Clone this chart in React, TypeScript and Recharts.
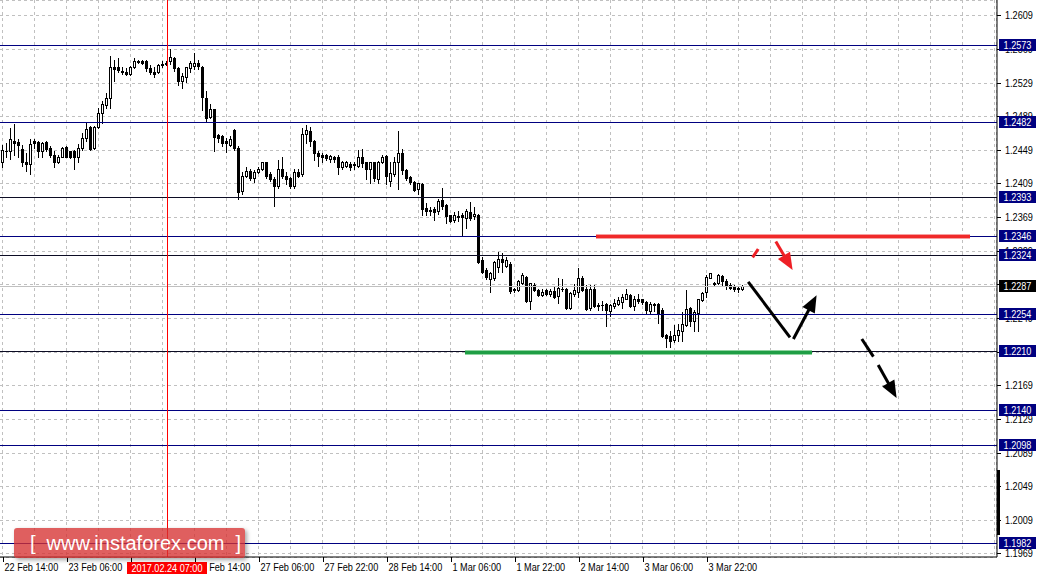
import React from "react";
import { ComposedChart, Bar, XAxis, YAxis, CartesianGrid, ReferenceLine } from "recharts";

const FONT = "'Liberation Sans', Arial, sans-serif";
const SQUEEZE = 0.83; // MT4 uses a narrow Tahoma, squeeze Liberation Sans to match

// hourly bars; bar index 0 = 22 Feb 14:00, the first bar sits half off the left edge
const firstBar = -1;

const opens = [
  1.2457, 1.2434, 1.2448, 1.2448, 1.2459, 1.2458, 1.2450, 1.2435, 1.2432, 1.2459,
  1.2458, 1.2447, 1.2458, 1.2451, 1.2443, 1.2434, 1.2441, 1.2452, 1.2447, 1.2448,
  1.2440, 1.2451, 1.2463, 1.2476, 1.2451, 1.2476, 1.2493, 1.2502, 1.2510, 1.2547,
  1.2547, 1.2543, 1.2542, 1.2539, 1.2547, 1.2554, 1.2554, 1.2554, 1.2546, 1.2542,
  1.2542, 1.2550, 1.2551, 1.2554, 1.2558, 1.2546, 1.2531, 1.2535, 1.2546, 1.2549,
  1.2552, 1.2548, 1.2511, 1.2488, 1.2497, 1.2466, 1.2465, 1.2460, 1.2455, 1.2473,
  1.2451, 1.2400, 1.2418, 1.2424, 1.2415, 1.2422, 1.2426, 1.2434, 1.2420, 1.2414,
  1.2406, 1.2426, 1.2418, 1.2416, 1.2406, 1.2422, 1.2420, 1.2468, 1.2471, 1.2460,
  1.2445, 1.2443, 1.2443, 1.2438, 1.2441, 1.2441, 1.2428, 1.2430, 1.2432, 1.2432,
  1.2430, 1.2441, 1.2434, 1.2426, 1.2434, 1.2414, 1.2434, 1.2442, 1.2412, 1.2420,
  1.2434, 1.2445, 1.2425, 1.2417, 1.2411, 1.2402, 1.2408, 1.2380, 1.2377, 1.2379,
  1.2376, 1.2389, 1.2383, 1.2371, 1.2365, 1.2370, 1.2371, 1.2368, 1.2375, 1.2370,
  1.2372, 1.2318, 1.2306, 1.2295, 1.2296, 1.2310, 1.2319, 1.2311, 1.2313, 1.2284,
  1.2282, 1.2291, 1.2298, 1.2269, 1.2288, 1.2282, 1.2276, 1.2282, 1.2277, 1.2281,
  1.2275, 1.2283, 1.2284, 1.2261, 1.2278, 1.2280, 1.2297, 1.2283, 1.2261, 1.2283,
  1.2265, 1.2265, 1.2266, 1.2257, 1.2263, 1.2266, 1.2268, 1.2272, 1.2276, 1.2263,
  1.2271, 1.2271, 1.2268, 1.2257, 1.2266, 1.2266, 1.2259, 1.2229, 1.2227, 1.2223,
  1.2229, 1.2234, 1.2241, 1.2261, 1.2246, 1.2255, 1.2270, 1.2280, 1.2297, 1.2289,
  1.2290, 1.2299, 1.2293, 1.2288, 1.2287, 1.2285, 1.2283,
];
const highs = [
  1.2459, 1.2455, 1.2457, 1.2475, 1.2480, 1.2462, 1.2455, 1.2445, 1.2462, 1.2462,
  1.2460, 1.2458, 1.2459, 1.2453, 1.2447, 1.2443, 1.2452, 1.2453, 1.2448, 1.2449,
  1.2456, 1.2469, 1.2482, 1.2477, 1.2477, 1.2499, 1.2507, 1.2516, 1.2560, 1.2556,
  1.2558, 1.2548, 1.2546, 1.2549, 1.2558, 1.2556, 1.2556, 1.2556, 1.2550, 1.2547,
  1.2551, 1.2554, 1.2554, 1.2569, 1.2559, 1.2547, 1.2540, 1.2548, 1.2554, 1.2564,
  1.2556, 1.2549, 1.2519, 1.2503, 1.2498, 1.2468, 1.2467, 1.2463, 1.2465, 1.2474,
  1.2453, 1.2422, 1.2429, 1.2426, 1.2425, 1.2429, 1.2435, 1.2435, 1.2422, 1.2417,
  1.2437, 1.2440, 1.2422, 1.2417, 1.2426, 1.2426, 1.2475, 1.2478, 1.2476, 1.2461,
  1.2447, 1.2445, 1.2444, 1.2443, 1.2442, 1.2443, 1.2436, 1.2436, 1.2434, 1.2435,
  1.2449, 1.2450, 1.2435, 1.2435, 1.2435, 1.2436, 1.2443, 1.2443, 1.2434, 1.2440,
  1.2471, 1.2450, 1.2426, 1.2418, 1.2412, 1.2410, 1.2409, 1.2386, 1.2381, 1.2381,
  1.2391, 1.2403, 1.2384, 1.2372, 1.2375, 1.2376, 1.2374, 1.2378, 1.2387, 1.2381,
  1.2373, 1.2321, 1.2309, 1.2304, 1.2317, 1.2327, 1.2326, 1.2322, 1.2315, 1.2285,
  1.2294, 1.2302, 1.2299, 1.2291, 1.2291, 1.2284, 1.2283, 1.2284, 1.2284, 1.2287,
  1.2296, 1.2295, 1.2285, 1.2280, 1.2289, 1.2308, 1.2299, 1.2288, 1.2288, 1.2288,
  1.2267, 1.2269, 1.2267, 1.2266, 1.2272, 1.2274, 1.2277, 1.2283, 1.2277, 1.2275,
  1.2277, 1.2272, 1.2269, 1.2268, 1.2267, 1.2267, 1.2261, 1.2230, 1.2233, 1.2241,
  1.2242, 1.2256, 1.2282, 1.2262, 1.2259, 1.2272, 1.2280, 1.2300, 1.2303, 1.2292,
  1.2301, 1.2300, 1.2295, 1.2290, 1.2288, 1.2286, 1.2288,
];
const lows = [
  1.2440, 1.2428, 1.2440, 1.2438, 1.2443, 1.2440, 1.2430, 1.2424, 1.2420, 1.2451,
  1.2441, 1.2441, 1.2447, 1.2440, 1.2428, 1.2433, 1.2440, 1.2440, 1.2439, 1.2426,
  1.2434, 1.2449, 1.2459, 1.2449, 1.2450, 1.2475, 1.2481, 1.2499, 1.2499, 1.2531,
  1.2542, 1.2539, 1.2538, 1.2538, 1.2546, 1.2552, 1.2551, 1.2543, 1.2539, 1.2535,
  1.2540, 1.2547, 1.2550, 1.2551, 1.2543, 1.2526, 1.2522, 1.2530, 1.2542, 1.2545,
  1.2545, 1.2496, 1.2483, 1.2487, 1.2448, 1.2458, 1.2454, 1.2446, 1.2453, 1.2449,
  1.2391, 1.2397, 1.2417, 1.2413, 1.2411, 1.2421, 1.2425, 1.2416, 1.2412, 1.2382,
  1.2403, 1.2416, 1.2408, 1.2403, 1.2403, 1.2417, 1.2418, 1.2457, 1.2453, 1.2437,
  1.2430, 1.2435, 1.2437, 1.2435, 1.2434, 1.2420, 1.2426, 1.2429, 1.2425, 1.2426,
  1.2429, 1.2429, 1.2414, 1.2410, 1.2412, 1.2410, 1.2433, 1.2408, 1.2406, 1.2418,
  1.2402, 1.2420, 1.2413, 1.2408, 1.2400, 1.2396, 1.2372, 1.2371, 1.2372, 1.2366,
  1.2373, 1.2378, 1.2362, 1.2363, 1.2363, 1.2364, 1.2348, 1.2356, 1.2366, 1.2367,
  1.2314, 1.2302, 1.2295, 1.2280, 1.2294, 1.2304, 1.2304, 1.2310, 1.2279, 1.2280,
  1.2281, 1.2289, 1.2268, 1.2260, 1.2281, 1.2275, 1.2275, 1.2276, 1.2275, 1.2273,
  1.2267, 1.2281, 1.2260, 1.2260, 1.2275, 1.2274, 1.2281, 1.2259, 1.2259, 1.2262,
  1.2259, 1.2258, 1.2240, 1.2251, 1.2261, 1.2265, 1.2261, 1.2271, 1.2262, 1.2259,
  1.2267, 1.2266, 1.2254, 1.2255, 1.2257, 1.2243, 1.2226, 1.2214, 1.2214, 1.2221,
  1.2222, 1.2222, 1.2240, 1.2239, 1.2233, 1.2233, 1.2269, 1.2274, 1.2296, 1.2287,
  1.2289, 1.2287, 1.2283, 1.2283, 1.2281, 1.2280, 1.2282,
];
const closes = [
  1.2443, 1.2449, 1.2447, 1.2462, 1.2457, 1.2455, 1.2435, 1.2432, 1.2456, 1.2457,
  1.2447, 1.2457, 1.2450, 1.2443, 1.2434, 1.2441, 1.2451, 1.2441, 1.2440, 1.2440,
  1.2451, 1.2463, 1.2474, 1.2450, 1.2476, 1.2493, 1.2503, 1.2510, 1.2547, 1.2545,
  1.2544, 1.2542, 1.2539, 1.2548, 1.2554, 1.2553, 1.2552, 1.2546, 1.2541, 1.2539,
  1.2550, 1.2551, 1.2552, 1.2559, 1.2546, 1.2531, 1.2537, 1.2547, 1.2552, 1.2552,
  1.2549, 1.2512, 1.2487, 1.2498, 1.2464, 1.2463, 1.2457, 1.2457, 1.2462, 1.2451,
  1.2399, 1.2418, 1.2424, 1.2415, 1.2422, 1.2426, 1.2434, 1.2418, 1.2414, 1.2406,
  1.2426, 1.2418, 1.2414, 1.2406, 1.2422, 1.2418, 1.2468, 1.2472, 1.2459, 1.2445,
  1.2442, 1.2441, 1.2439, 1.2442, 1.2438, 1.2428, 1.2434, 1.2434, 1.2428, 1.2431,
  1.2440, 1.2433, 1.2426, 1.2434, 1.2416, 1.2434, 1.2441, 1.2418, 1.2421, 1.2434,
  1.2445, 1.2425, 1.2415, 1.2411, 1.2401, 1.2409, 1.2379, 1.2376, 1.2376, 1.2375,
  1.2388, 1.2382, 1.2370, 1.2364, 1.2372, 1.2369, 1.2369, 1.2376, 1.2368, 1.2373,
  1.2315, 1.2304, 1.2298, 1.2302, 1.2315, 1.2319, 1.2315, 1.2318, 1.2281, 1.2282,
  1.2293, 1.2300, 1.2269, 1.2290, 1.2282, 1.2276, 1.2280, 1.2277, 1.2281, 1.2274,
  1.2285, 1.2284, 1.2261, 1.2279, 1.2282, 1.2296, 1.2282, 1.2260, 1.2283, 1.2263,
  1.2263, 1.2264, 1.2258, 1.2264, 1.2267, 1.2270, 1.2274, 1.2277, 1.2263, 1.2272,
  1.2269, 1.2268, 1.2258, 1.2266, 1.2264, 1.2254, 1.2227, 1.2225, 1.2222, 1.2229,
  1.2235, 1.2242, 1.2260, 1.2246, 1.2256, 1.2271, 1.2279, 1.2298, 1.2302, 1.2290,
  1.2300, 1.2293, 1.2287, 1.2285, 1.2283, 1.2283, 1.2287,
];

const labelBars = [0, 16, 32, 48, 64, 80, 96, 112, 128, 144, 160, 176];
const labelTexts = [
  "22 Feb 14:00", "23 Feb 06:00", "23 Feb 22:00", "24 Feb 14:00", "27 Feb 06:00", "27 Feb 22:00",
  "28 Feb 14:00", "1 Mar 06:00", "1 Mar 22:00", "2 Mar 14:00", "3 Mar 06:00", "3 Mar 22:00",
];
const gridBars = Array.from({ length: 32 }, (_, i) => i * 8);

const priceTicks = [
  1.2609, 1.2569, 1.2529, 1.2489, 1.2449, 1.2409, 1.2369, 1.2329, 1.2289,
  1.2249, 1.2209, 1.2169, 1.2129, 1.2089, 1.2049, 1.2009, 1.1969,
];

const blueLevels = [1.2573, 1.2482, 1.2346, 1.2254, 1.2140, 1.2098, 1.1982];
const darkLevels = [1.2393, 1.2324, 1.2210];
const bidPrice = 1.2287;

const cursorBar = 41;
const cursorText = "2017.02.24 07:00";

const resistance = { fromBar: 148.25, toBar: 241.75, price: 1.2346 };
const support = { fromBar: 115.5, toBar: 202.25, price: 1.2208 };

// hand drawn forecast strokes: [bar, price] -> [bar, price]
const strokes = [
  { from: [187.4, 1.2321], to: [188.8, 1.2331], color: "#ee2026", head: false },
  { from: [193.2, 1.234], to: [197.4, 1.2306], color: "#ee2026", head: true },
  { from: [186.3, 1.2292], to: [196.75, 1.2226], color: "#000000", head: false },
  { from: [197.6, 1.2224], to: [203.4, 1.2276], color: "#000000", head: true },
  { from: [214.7, 1.2224], to: [217.6, 1.2203], color: "#000000", head: false },
  { from: [218.8, 1.2193], to: [223.4, 1.2154], color: "#000000", head: true },
];

const DOMAIN_X: [number, number] = [-0.75, 248.5];
const DOMAIN_Y: [number, number] = [1.196479, 1.26271];

const candles = opens.map((o, i) => ({
  bar: firstBar + i,
  o,
  h: highs[i],
  l: lows[i],
  c: closes[i],
  range: [lows[i], highs[i]],
}));

const tagValues = [...blueLevels, ...darkLevels, bidPrice];

const fmt = (p: number) => p.toFixed(4);
const crisp = (v: number) => Math.round(v) + 0.5;

function Candle(props: any) {
  const { x, y, width, height, payload } = props;
  if (x == null || y == null || !payload) return null;
  const top = Math.min(y, y + height);
  const bottom = Math.max(y, y + height);
  const { o, h, l, c } = payload;
  const span = h - l;
  const py = (v: number) => (span > 0 ? top + ((h - v) / span) * (bottom - top) : top);
  const cx = Math.round(x + width / 2);
  const bTop = Math.round(py(Math.max(o, c)));
  const bBot = Math.round(py(Math.min(o, c)));
  const wTop = Math.round(top);
  const wBot = Math.round(bottom);
  const up = c >= o;
  const flat = bBot - bTop < 1;
  return (
    <g>
      <line x1={cx - 0.5} x2={cx - 0.5} y1={wTop} y2={wBot + 1} stroke="#000" strokeWidth={1} />
      {flat ? (
        <line x1={cx - 2} x2={cx + 1} y1={bTop + 0.5} y2={bTop + 0.5} stroke="#000" strokeWidth={1} />
      ) : up ? (
        <rect x={cx - 1.5} y={bTop + 0.5} width={2} height={bBot - bTop} fill="#fff" stroke="#000" strokeWidth={1} />
      ) : (
        <rect x={cx - 2} y={bTop} width={3} height={bBot - bTop + 1} fill="#000" />
      )}
    </g>
  );
}

function Label11({ x, y, children, anchor = "start", fill = "#000" }: any) {
  return (
    <text
      transform={`translate(${x},${y}) scale(${SQUEEZE},1)`}
      x={0}
      y={0}
      fontSize={11}
      fontFamily={FONT}
      fill={fill}
      textAnchor={anchor}
    >
      {children}
    </text>
  );
}

function XTick(props: any) {
  const { x, y, payload } = props;
  const i = labelBars.indexOf(payload.value);
  if (i < 0) return null;
  const px = crisp(x);
  return (
    <g>
      <line x1={px} x2={px} y1={y} y2={y + 5} stroke="#000" />
      <Label11 x={px + 1} y={y + 14}>{labelTexts[i]}</Label11>
    </g>
  );
}

function YTick(props: any) {
  const { x, y, payload } = props;
  return (
    <g>
      <line x1={x} x2={x + 4} y1={crisp(y)} y2={crisp(y)} stroke="#000" />
      <Label11 x={x + 8} y={y + 4}>{fmt(payload.value)}</Label11>
    </g>
  );
}

// thin extra right axis that only paints the level boxes over the price scale
function TagTick(props: any) {
  const { x, y, payload } = props;
  const v = payload.value;
  const bg = v === bidPrice ? "#000" : "#000080";
  const left = x > 1020 ? x - 39 : x + 2;
  const top = Math.round(y) - 6;
  return (
    <g>
      <rect x={left} y={top} width={37} height={12} fill={bg} />
      <Label11 x={left + 18.5} y={top + 10} anchor="middle" fill="#fff">{fmt(v)}</Label11>
    </g>
  );
}

function CursorTick(props: any) {
  const { x, y } = props;
  const top = y > 570 ? y - 16 : y + 5;
  const cx = Math.round(x);
  return (
    <g>
      <rect x={cx - 40} y={top} width={80} height={12} fill="#ff0000" />
      <Label11 x={cx} y={top + 10} anchor="middle" fill="#fff">{cursorText}</Label11>
    </g>
  );
}

const flatLine = (color: string) => (p: any) => {
  const { x1, y1, x2, y2 } = p;
  if (x1 == null || y1 == null) return null;
  return <line x1={x1} x2={x2} y1={crisp(y1)} y2={crisp(y2)} stroke={color} strokeWidth={1} />;
};

const upright = (color: string) => (p: any) => {
  const { x1, y1, x2, y2 } = p;
  if (x1 == null || y1 == null) return null;
  return <line x1={crisp(x1 - 0.5)} x2={crisp(x2 - 0.5)} y1={y1} y2={y2} stroke={color} strokeWidth={1} />;
};

const stroke = (color: string, head: boolean) => (p: any) => {
  const { x1, y1, x2, y2 } = p;
  if ([x1, y1, x2, y2].some((v) => v == null || Number.isNaN(v))) return null;
  const dx = x2 - x1;
  const dy = y2 - y1;
  const len = Math.hypot(dx, dy) || 1;
  const ux = dx / len;
  const uy = dy / len;
  const hl = head ? 17 : 0;
  const hw = 7;
  const bx = x2 - ux * hl;
  const by = y2 - uy * hl;
  return (
    <g>
      <line x1={x1} y1={y1} x2={head ? bx + ux * 2 : x2} y2={head ? by + uy * 2 : y2} stroke={color} strokeWidth={3} />
      {head && (
        <polygon
          points={`${x2},${y2} ${bx - uy * hw},${by + ux * hw} ${bx + uy * hw},${by - ux * hw}`}
          fill={color}
        />
      )}
    </g>
  );
};

const thick = (color: string, halo: string) => (p: any) => {
  const { x1, y1, x2, y2 } = p;
  if (x1 == null || y1 == null) return null;
  return (
    <g>
      <line x1={x1} y1={y1} x2={x2} y2={y2} stroke={halo} strokeWidth={5} />
      <line x1={x1} y1={y1} x2={x2} y2={y2} stroke={color} strokeWidth={3} />
    </g>
  );
};

const gridH = (p: any) => (
  <line x1={p.x1} x2={p.x2} y1={crisp(p.y1)} y2={crisp(p.y2)} stroke="#c0c0c0" strokeDasharray="3 3" />
);
const gridV = (p: any) => (
  <line x1={crisp(p.x1 - 1)} x2={crisp(p.x2 - 1)} y1={p.y1} y2={p.y2} stroke="#c0c0c0" strokeDasharray="3 3" />
);

export default function App() {
  return (
    <div style={{ position: "absolute", left: 0, top: 0, width: 1039, height: 579, background: "#fff", overflow: "hidden" }}>
      <ComposedChart width={1039} height={579} data={candles} margin={{ top: 0, right: 0, bottom: 0, left: 0 }}>
        <CartesianGrid horizontal={gridH} vertical={gridV} />
        <XAxis
          type="number"
          dataKey="bar"
          scale="linear"
          domain={DOMAIN_X}
          allowDataOverflow
          ticks={gridBars}
          interval={0}
          height={21}
          tickSize={0}
          tickMargin={0}
          tickLine={false}
          axisLine={{ stroke: "#000" }}
          tick={<XTick />}
        />
        <YAxis
          type="number"
          orientation="right"
          domain={DOMAIN_Y}
          allowDataOverflow
          ticks={priceTicks}
          interval={0}
          width={41}
          tickSize={0}
          tickMargin={0}
          tickLine={false}
          axisLine={{ stroke: "#000" }}
          tick={<YTick />}
        />
        <XAxis
          xAxisId="cursor"
          type="number"
          dataKey="bar"
          scale="linear"
          domain={DOMAIN_X}
          allowDataOverflow
          ticks={[cursorBar]}
          interval={0}
          height={1}
          tickSize={0}
          tickMargin={0}
          tickLine={false}
          axisLine={false}
          tick={<CursorTick />}
        />
        <YAxis
          yAxisId="tags"
          type="number"
          orientation="right"
          domain={DOMAIN_Y}
          allowDataOverflow
          ticks={tagValues}
          interval={0}
          width={1}
          tickSize={0}
          tickMargin={0}
          tickLine={false}
          axisLine={false}
          tick={<TagTick />}
        />
        <ReferenceLine y={bidPrice} shape={flatLine("#c0c0c0")} />
        {blueLevels.map((v) => (
          <ReferenceLine key={v} y={v} shape={flatLine("#000080")} />
        ))}
        {darkLevels.map((v) => (
          <ReferenceLine key={v} y={v} shape={flatLine("#0c0c24")} />
        ))}
        <ReferenceLine x={cursorBar} shape={upright("#ff0000")} />
        <ReferenceLine
          segment={[{ x: resistance.fromBar, y: resistance.price }, { x: resistance.toBar, y: resistance.price }]}
          shape={thick("#f02a2a", "#f6a0a0")}
          ifOverflow="visible"
        />
        <ReferenceLine
          segment={[{ x: support.fromBar, y: support.price }, { x: support.toBar, y: support.price }]}
          shape={thick("#1f9e45", "#8fd4a0")}
          ifOverflow="visible"
        />
        <Bar dataKey="range" barSize={3} shape={<Candle />} isAnimationActive={false} />
        {strokes.map((s, i) => (
          <ReferenceLine
            key={i}
            segment={[{ x: s.from[0], y: s.from[1] }, { x: s.to[0], y: s.to[1] }]}
            shape={stroke(s.color, s.head)}
            ifOverflow="visible"
          />
        ))}
      </ComposedChart>
      <div style={{ position: "absolute", left: 997, top: 470, width: 3, height: 65, background: "#000" }} />
      <div
        style={{
          position: "absolute",
          left: 14,
          top: 528,
          width: 231,
          height: 30,
          boxSizing: "border-box",
          paddingLeft: 12,
          background: "rgba(214, 50, 50, 0.78)",
          borderRadius: 3,
          boxShadow: "2px 2px 4px rgba(0,0,0,0.35)",
          color: "#fff",
          fontFamily: "'Liberation Sans', Arial, sans-serif",
          fontSize: 20,
          lineHeight: "30px",
          whiteSpace: "pre",
          textAlign: "center",
        }}
      >
        {"[  www.instaforex.com  ]"}
      </div>
    </div>
  );
}
